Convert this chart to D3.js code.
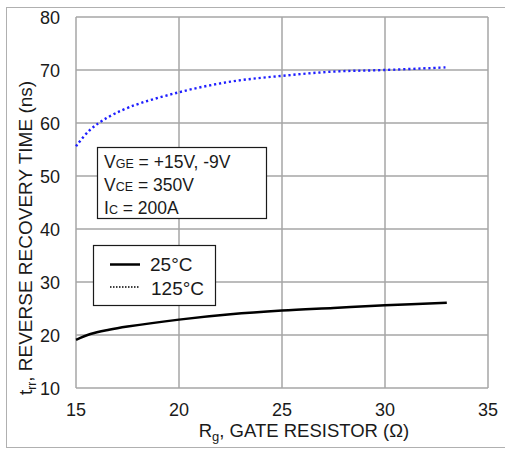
<!DOCTYPE html>
<html lang="en">
<head>
<meta charset="UTF-8">
<title>Reverse recovery time vs gate resistor</title>
<style>
  body { margin: 0; background: #fff; }
  svg text { font-family: "Liberation Sans", Arial, sans-serif; fill: #1a1a1a; }
</style>
</head>
<body>
<svg id="chart" width="505" height="449"></svg>
<script src="https://d3js.org/d3.v7.min.js"></script>
<script>
// data
var rg25 = [15, 15.7, 16.6, 17.5, 20, 22.5, 25, 27.5, 30, 33];
var trr25 = [19.1, 20.2, 21.0, 21.6, 22.9, 23.9, 24.6, 25.1, 25.6, 26.1];
var rg125 = [15, 15.6, 16.3, 17.6, 20, 22.5, 25, 27.5, 30, 33];
var trr125 = [55.6, 58.4, 60.5, 63.0, 65.8, 67.8, 68.9, 69.7, 70.0, 70.5];
var xTicks = [15, 20, 25, 30, 35];
var yTicks = [10, 20, 30, 40, 50, 60, 70, 80];
var conditions = ["VGE = +15V, -9V", "VCE = 350V", "IC = 200A"];
var legendLabels = ["25°C", "125°C"];

var svg = d3.select("#chart"),
    plotL = 76, plotR = 488, plotT = 17, plotB = 388;

var x = d3.scaleLinear().domain([15, 35]).range([plotL, plotR]);
var y = d3.scaleLinear().domain([10, 80]).range([plotB, plotT]);

// outer frame
svg.append("rect")
    .attr("x", 6.5).attr("y", 7.5).attr("width", 510).attr("height", 440)
    .attr("fill", "none").attr("stroke", "#b0b0b0").attr("stroke-width", 1);

// grid
var grid = svg.append("g").attr("stroke", "#a6a6a6").attr("stroke-width", 1.5);
xTicks.forEach(function (d) {
    grid.append("line").attr("x1", x(d)).attr("x2", x(d)).attr("y1", plotT).attr("y2", plotB);
});
yTicks.forEach(function (d) {
    grid.append("line").attr("x1", plotL).attr("x2", plotR).attr("y1", y(d)).attr("y2", y(d));
});

// tick labels
svg.selectAll(".xt").data(xTicks).enter().append("text")
    .attr("x", function (d) { return x(d); })
    .attr("y", 416)
    .attr("text-anchor", "middle")
    .attr("font-size", 18)
    .text(function (d) { return d; });

svg.selectAll(".yt").data(yTicks).enter().append("text")
    .attr("x", 60)
    .attr("y", function (d) { return y(d) + 6.5; })
    .attr("text-anchor", "end")
    .attr("font-size", 18)
    .text(function (d) { return d; });

// axis titles
var xt = svg.append("text").attr("x", 304).attr("y", 437)
    .attr("text-anchor", "middle").attr("font-size", 18.5);
xt.append("tspan").text("R");
xt.append("tspan").attr("font-size", 13).attr("dy", 4).text("g");
xt.append("tspan").attr("dy", -4).text(", GATE RESISTOR (Ω)");

var yt = svg.append("text")
    .attr("transform", "translate(32,238) rotate(-90)")
    .attr("text-anchor", "middle").attr("font-size", 19);
yt.append("tspan").text("t");
yt.append("tspan").attr("font-size", 12).attr("dy", 4).text("rr");
yt.append("tspan").attr("dy", -4).text(", REVERSE RECOVERY TIME (ns)");

// curves
var line = d3.line()
    .x(function (d) { return x(d[0]); })
    .y(function (d) { return y(d[1]); })
    .curve(d3.curveCatmullRom.alpha(0.5));

svg.append("path")
    .datum(d3.zip(rg25, trr25))
    .attr("d", line)
    .attr("fill", "none").attr("stroke", "#000").attr("stroke-width", 2.5);

svg.append("path")
    .datum(d3.zip(rg125, trr125))
    .attr("d", line)
    .attr("fill", "none").attr("stroke", "#1f1fff").attr("stroke-width", 2.4)
    .attr("stroke-dasharray", "2.2,2.8");

// conditions box
svg.append("rect").attr("x", 97.5).attr("y", 147.5).attr("width", 169).attr("height", 71)
    .attr("fill", "#fff").attr("stroke", "#1a1a1a").attr("stroke-width", 1.2);
conditions.forEach(function (c, i) {
    var t = svg.append("text").attr("x", 104).attr("y", 168 + i * 23).attr("font-size", 17.5);
    t.append("tspan").text(c.charAt(0));
    t.append("tspan").attr("font-size", 12.5).text(c.charAt(0) === "I" ? "C" : c.slice(1, 3));
    t.append("tspan").text(c.charAt(0) === "I" ? c.slice(2) : c.slice(3));
});

// legend box
svg.append("rect").attr("x", 93.5).attr("y", 245.5).attr("width", 122).attr("height", 60)
    .attr("fill", "#fff").attr("stroke", "#1a1a1a").attr("stroke-width", 1.2);
svg.append("line").attr("x1", 110).attr("x2", 140).attr("y1", 264.5).attr("y2", 264.5)
    .attr("stroke", "#000").attr("stroke-width", 2.5);
svg.append("line").attr("x1", 110).attr("x2", 140).attr("y1", 287).attr("y2", 287)
    .attr("stroke", "#000").attr("stroke-width", 1.5).attr("stroke-dasharray", "1.5,1.5");
legendLabels.forEach(function (l, i) {
    svg.append("text").attr("x", i === 0 ? 150 : 151).attr("y", 271 + i * 24)
        .attr("font-size", 19).text(l);
});
</script>
</body>
</html>
